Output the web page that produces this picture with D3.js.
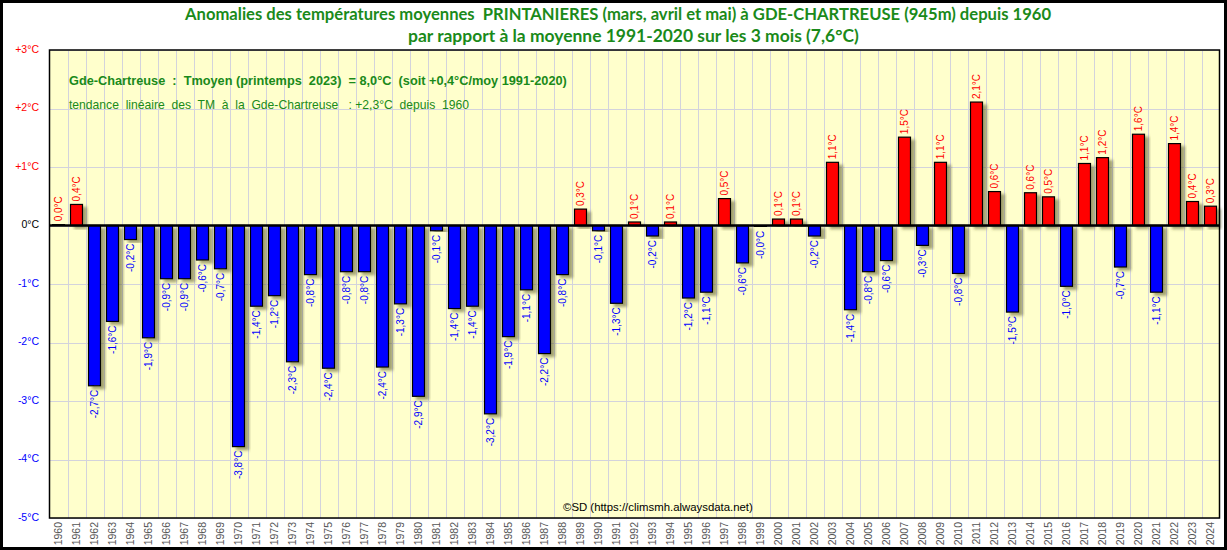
<!DOCTYPE html>
<html><head><meta charset="utf-8">
<script src="https://cdnjs.cloudflare.com/ajax/libs/d3/7.8.5/d3.min.js"></script>
<style>
html,body{margin:0;padding:0;background:#fff;}
svg{display:block;}
text{white-space:pre;}
</style></head>
<body>
<svg id="chart" width="1227" height="550"></svg>
<script>
const years = ["1960","1961","1962","1963","1964","1965","1966","1967","1968","1969",
"1970","1971","1972","1973","1974","1975","1976","1977","1978","1979",
"1980","1981","1982","1983","1984","1985","1986","1987","1988","1989",
"1990","1991","1992","1993","1994","1995","1996","1997","1998","1999",
"2000","2001","2002","2003","2004","2005","2006","2007","2008","2009",
"2010","2011","2012","2013","2014","2015","2016","2017","2018","2019",
"2020","2021","2022","2023","2024"];
const anomalies = [0.02,0.36,-2.74,-1.64,-0.24,-1.92,-0.91,-0.91,-0.59,-0.74,
-3.78,-1.38,-1.20,-2.33,-0.84,-2.44,-0.79,-0.79,-2.42,-1.34,
-2.92,-0.09,-1.42,-1.38,-3.22,-1.90,-1.10,-2.19,-0.84,0.28,
-0.09,-1.33,0.06,-0.18,0.06,-1.24,-1.14,0.46,-0.64,-0.02,
0.11,0.11,-0.18,1.08,-1.44,-0.79,-0.60,1.51,-0.34,1.08,
-0.82,2.11,0.58,-1.48,0.56,0.49,-1.04,1.06,1.16,-0.71,
1.56,-1.14,1.40,0.41,0.33];
const yTicks = [3,2,1,0,-1,-2,-3,-4,-5];
const yTickLabels = ["+3°C","+2°C","+1°C","0°C","-1°C","-2°C","-3°C","-4°C","-5°C"];
const titleLines = ["Anomalies des températures moyennes  PRINTANIERES (mars, avril et mai) à GDE-CHARTREUSE (945m) depuis 1960",
"par rapport à la moyenne 1991-2020 sur les 3 mois (7,6°C)"];
const infoLines = ["Gde-Chartreuse  :  Tmoyen (printemps  2023)  = 8,0°C  (soit +0,4°C/moy 1991-2020)",
"tendance  linéaire  des  TM  à  la  Gde-Chartreuse   : +2,3°C  depuis  1960"];
const credit = "©SD (https://climsmh.alwaysdata.net)";

const svg = d3.select("#chart");
const L = 49.5, R = 1219.5, T = 50, B = 518;
const x = d3.scaleBand().domain(years).range([L, R]).paddingInner(1/3).paddingOuter(1/6);
const step = x.step();
const y = d3.scaleLinear().domain([-5, 3]).range([B, T]);

const defs = svg.append("defs");
const f = defs.append("filter").attr("id","sh").attr("x","-50%").attr("y","-20%").attr("width","200%").attr("height","140%");
f.append("feDropShadow").attr("dx",4).attr("dy",3).attr("stdDeviation",1.8)
 .attr("flood-color","#5a5a2a").attr("flood-opacity",0.55);

// outer frame
svg.append("rect").attr("x",1.5).attr("y",1.5).attr("width",1224).attr("height",547)
  .attr("fill","#fff").attr("stroke","#000").attr("stroke-width",3);

// plot bg
svg.append("rect").attr("x",L).attr("y",T).attr("width",R-L).attr("height",B-T).attr("fill","#ffffcc");

// grid
const grid = svg.append("g").attr("stroke","#d3d3dc").attr("stroke-width",1);
yTicks.forEach(t => {
  grid.append("line").attr("x1",L).attr("x2",R).attr("y1",Math.round(y(t))+0.5).attr("y2",Math.round(y(t))+0.5);
});
years.forEach((yr,i) => {
  if (i===0) return;
  const gx = Math.round(x(yr) - step*x.paddingInner()/2 - 0) ;
  grid.append("line").attr("x1",Math.round(L + i*step)+0.5).attr("x2",Math.round(L + i*step)+0.5).attr("y1",T).attr("y2",B);
});

// info text
const info = svg.append("g").attr("fill","#1a8a1a").attr("font-family","Liberation Sans, Arial, sans-serif");
const i1 = info.append("text").attr("x",69).attr("y",85).attr("font-size",12).attr("font-weight","bold").text(infoLines[0]);
const i2 = info.append("text").attr("x",69).attr("y",109).attr("font-size",12).text(infoLines[1]);

function fit(sel, w){
  const fs = +sel.attr("font-size");
  const m = sel.node().getComputedTextLength();
  sel.attr("font-size", (fs*w/m).toFixed(2));
}
fit(i1, 498); fit(i2, 400);

// bars
const bars = svg.append("g");
bars.selectAll("rect").data(anomalies).join("rect")
  .attr("x",(d,i)=>x(years[i]))
  .attr("width",x.bandwidth())
  .attr("y",d=>y(Math.max(0,d)))
  .attr("height",d=>Math.abs(y(d)-y(0)))
  .attr("fill",d=>d>=0?"#ff0000":"#0000ff")
  .attr("stroke","#000").attr("stroke-width",1.2)
  .attr("filter","url(#sh)");

// zero line
svg.append("line").attr("x1",L).attr("x2",R).attr("y1",y(0)).attr("y2",y(0)).attr("stroke","#000").attr("stroke-width",2.5);

// bar labels
const fmt = v => (v<0?"-":"") + Math.abs(v).toFixed(1).replace(".",",") + "°C";
svg.append("g").attr("font-family","Liberation Sans, Arial, sans-serif").attr("font-size",10)
  .selectAll("text").data(anomalies).join("text")
  .attr("transform",(d,i)=>{
    const cx = x(years[i]) + x.bandwidth()/2;
    const cy = d>=0 ? y(d)-3 : y(d)+4;
    return `translate(${cx},${cy}) rotate(-90)`;
  })
  .attr("dy","0.35em")
  .attr("text-anchor",d=>d>=0?"start":"end")
  .attr("fill",d=>d>=0?"#ff0000":"#0000ff")
  .text(d=>fmt(d));

// plot border
svg.append("rect").attr("x",L).attr("y",T).attr("width",R-L).attr("height",B-T)
  .attr("fill","none").attr("stroke","#000").attr("stroke-width",1.5);

// y axis labels
svg.append("g").attr("font-family","Liberation Sans, Arial, sans-serif").attr("font-size",10.5)
  .selectAll("text").data(yTicks).join("text")
  .attr("x",39).attr("y",d=>y(d)-1).attr("dy","0.35em").attr("text-anchor","end")
  .attr("fill",d=>d>0?"#ff0000":(d<0?"#0000ff":"#000"))
  .text((d,i)=>yTickLabels[i]);

// x axis labels
const xAxis = d3.axisBottom(x).tickSize(0).tickPadding(0);
const xg = svg.append("g").attr("transform",`translate(0,${B})`).call(xAxis);
xg.select(".domain").remove();
xg.selectAll("text")
  .attr("font-family","Liberation Sans, Arial, sans-serif").attr("font-size",10.5)
  .attr("fill","#555").attr("text-anchor","end")
  .attr("transform","rotate(-90)").attr("x",-4).attr("y",0).attr("dy","0.35em");

// credit
const cr = svg.append("text").attr("x",563).attr("y",511).attr("font-family","Liberation Sans, Arial, sans-serif")
  .attr("font-size",11).attr("fill","#000").text(credit);
fit(cr, 190);

// title
const t1 = svg.append("text").attr("x",185).attr("y",20).attr("font-family","Lato, Open Sans, sans-serif")
  .attr("font-weight","bold").attr("font-size",16).attr("fill","#1a8a1a").text(titleLines[0]);
const t2 = svg.append("text").attr("x",408).attr("y",42).attr("font-family","Lato, Open Sans, sans-serif")
  .attr("font-weight","bold").attr("font-size",16).attr("fill","#1a8a1a").text(titleLines[1]);
fit(t1, 867); fit(t2, 451);
</script>
</body></html>
